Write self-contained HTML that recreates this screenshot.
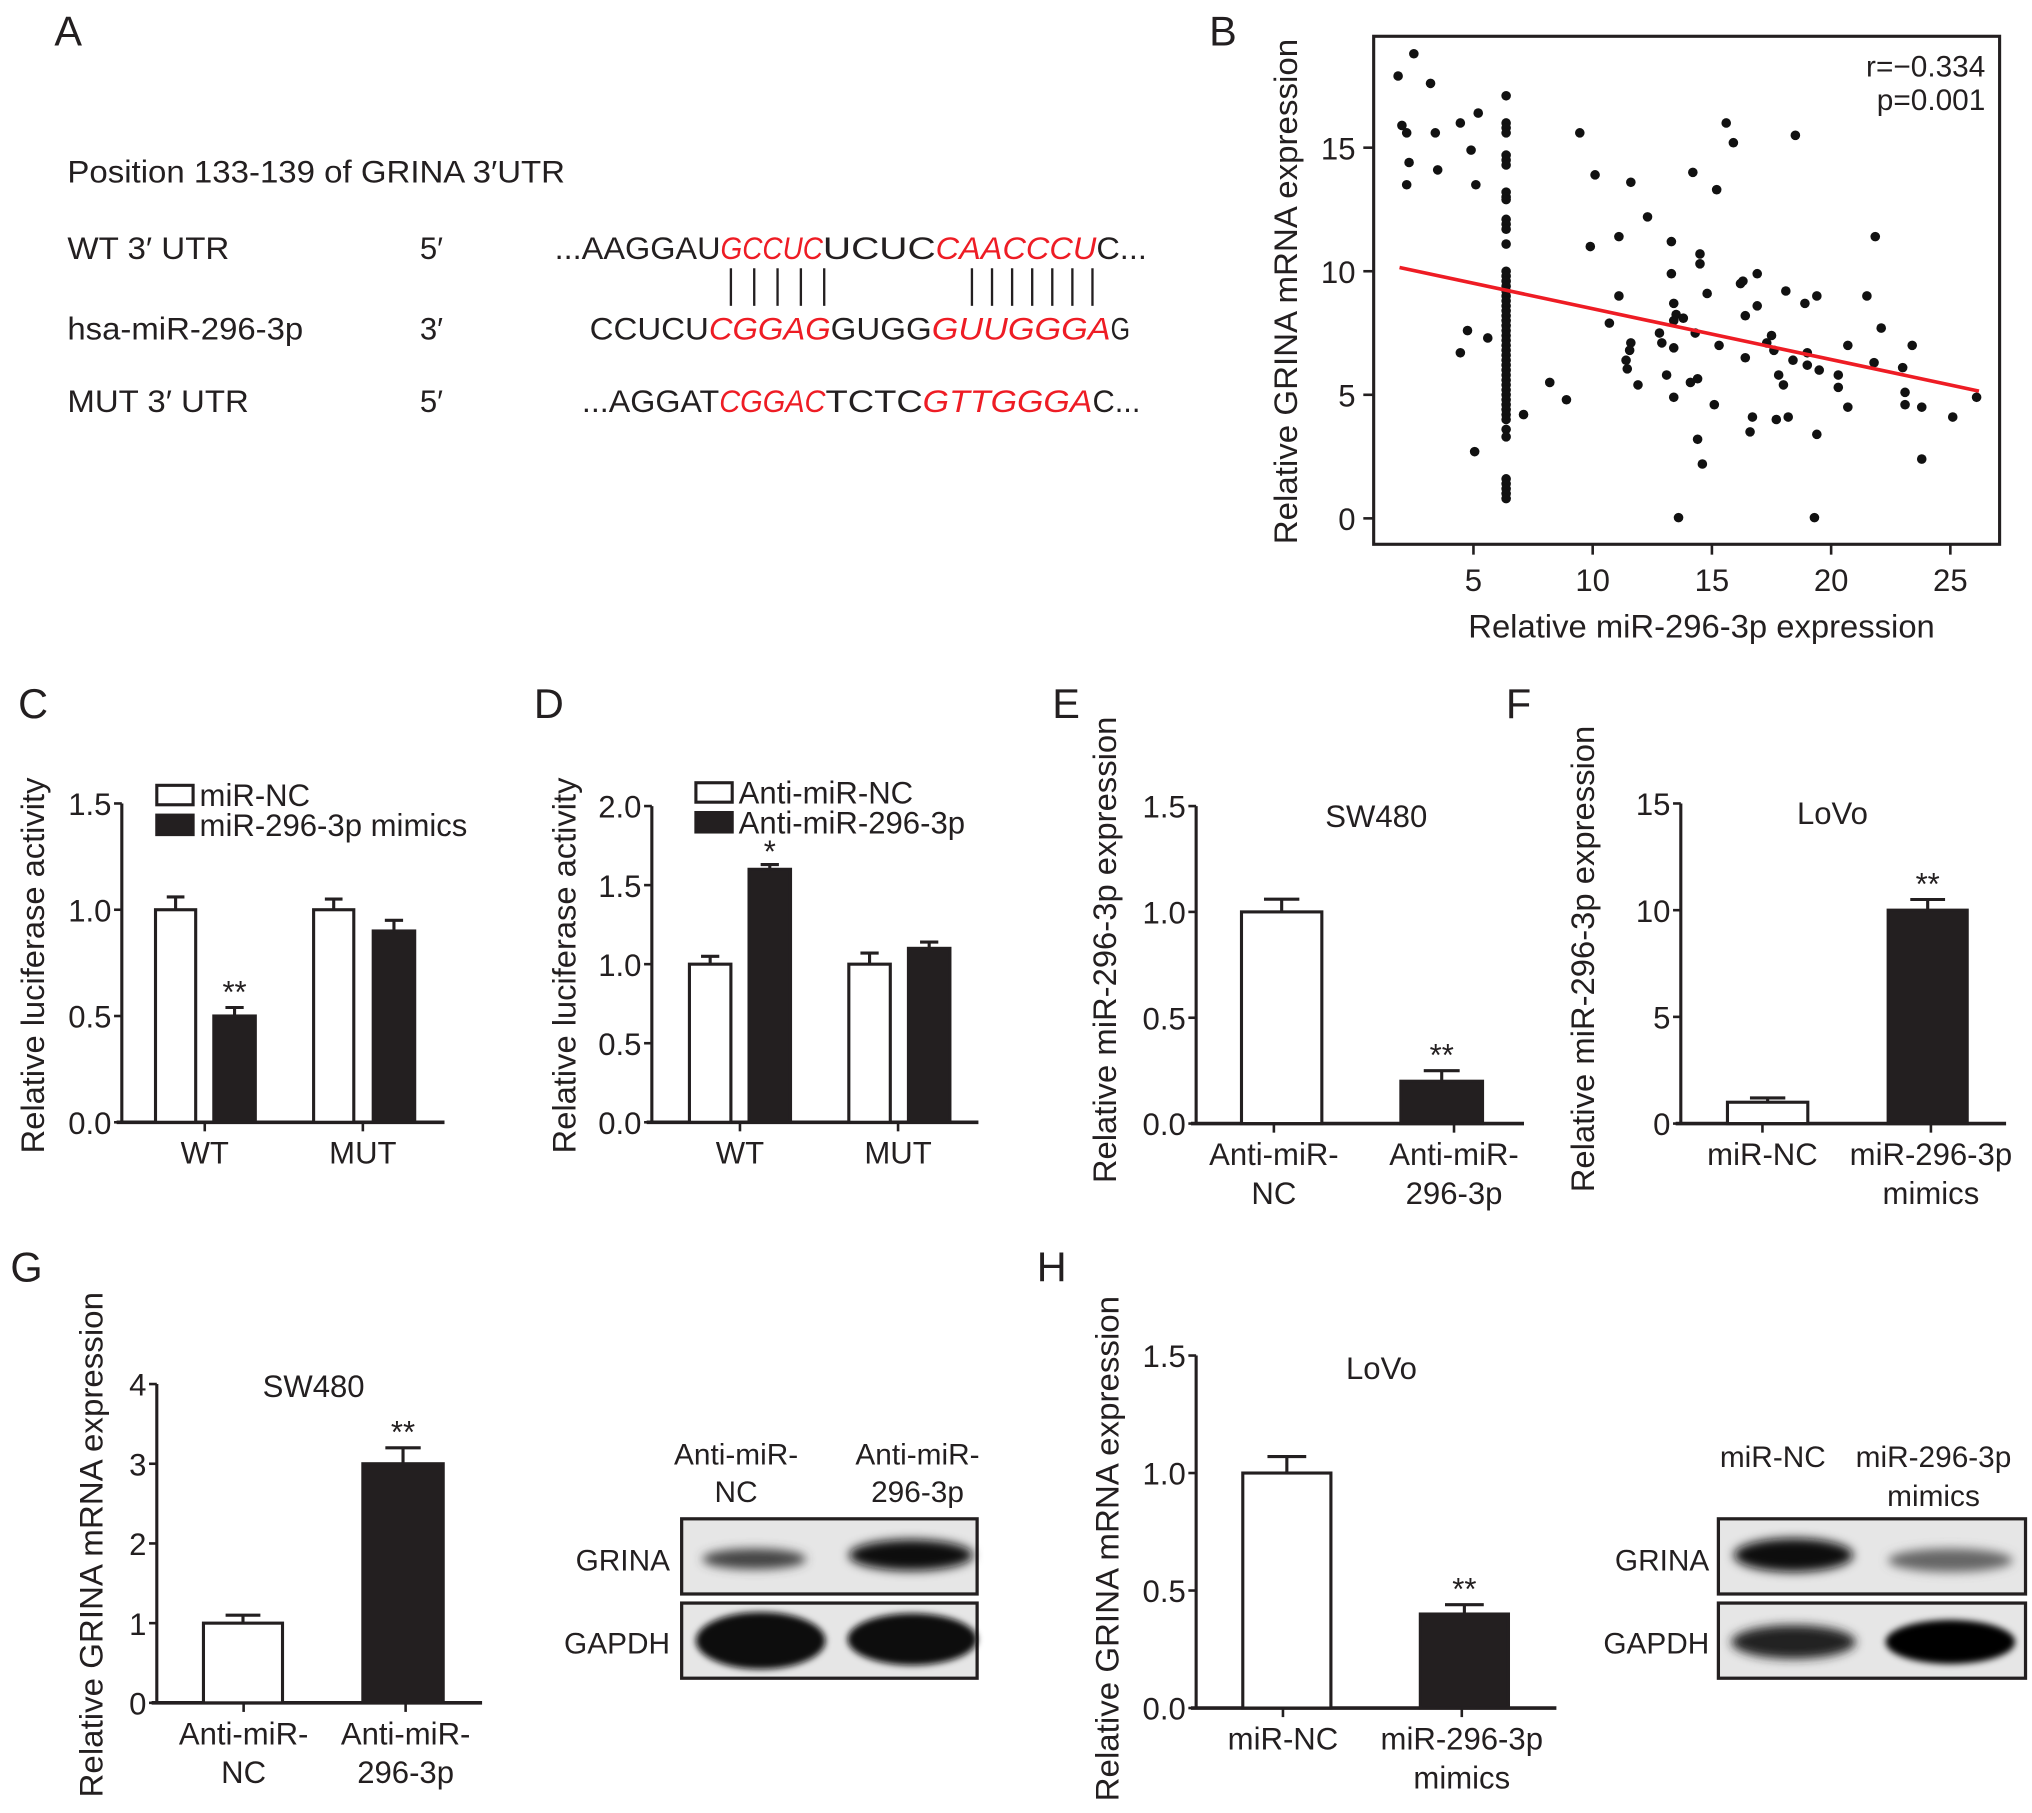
<!DOCTYPE html>
<html><head><meta charset="utf-8">
<style>
html,body{margin:0;padding:0;background:#fff;}
svg{display:block;}
text{font-family:"Liberation Sans",Arial,sans-serif;fill:#231f20;}
</style></head>
<body>
<svg id="fig" width="2032" height="1813" viewBox="0 0 1568 1399" preserveAspectRatio="none" xmlns="http://www.w3.org/2000/svg">
<defs>
<filter id="blur3" x="-30%" y="-80%" width="160%" height="260%"><feGaussianBlur stdDeviation="4"/></filter>
<filter id="blur2" x="-30%" y="-80%" width="160%" height="260%"><feGaussianBlur stdDeviation="2.5"/></filter>
</defs>

<!-- Panel A -->
<g>
<text x="42" y="35" font-size="32">A</text>
<text x="52" y="141" font-size="24" textLength="384" lengthAdjust="spacingAndGlyphs">Position 133-139 of GRINA 3′UTR</text>
<text x="52" y="200" font-size="24" textLength="125" lengthAdjust="spacingAndGlyphs">WT 3′ UTR</text>
<text x="52" y="262" font-size="24" textLength="182" lengthAdjust="spacingAndGlyphs">hsa-miR-296-3p</text>
<text x="52" y="318" font-size="24" textLength="140" lengthAdjust="spacingAndGlyphs">MUT 3′ UTR</text>
<text x="324" y="200" font-size="24">5′</text>
<text x="324" y="262" font-size="24">3′</text>
<text x="324" y="318" font-size="24">5′</text>
<g font-size="24">
<text x="428" y="200" textLength="128" lengthAdjust="spacingAndGlyphs">...AAGGAU</text>
<text x="556" y="200" textLength="79" lengthAdjust="spacingAndGlyphs" font-style="italic" style="fill:#ee1c24">GCCUC</text>
<text x="635" y="200" textLength="87" lengthAdjust="spacingAndGlyphs">UCUC</text>
<text x="722" y="200" textLength="124" lengthAdjust="spacingAndGlyphs" font-style="italic" style="fill:#ee1c24">CAACCCU</text>
<text x="846" y="200" textLength="39" lengthAdjust="spacingAndGlyphs">C...</text>
</g>
<g font-size="24">
<text x="455" y="262" textLength="92" lengthAdjust="spacingAndGlyphs">CCUCU</text>
<text x="547" y="262" textLength="94" lengthAdjust="spacingAndGlyphs" font-style="italic" style="fill:#ee1c24">CGGAG</text>
<text x="641" y="262" textLength="78" lengthAdjust="spacingAndGlyphs">GUGG</text>
<text x="719" y="262" textLength="138" lengthAdjust="spacingAndGlyphs" font-style="italic" style="fill:#ee1c24">GUUGGGA</text>
<text x="857" y="262" textLength="15" lengthAdjust="spacingAndGlyphs">G</text>
</g>
<g font-size="24">
<text x="449" y="318" textLength="106" lengthAdjust="spacingAndGlyphs">...AGGAT</text>
<text x="555" y="318" textLength="82" lengthAdjust="spacingAndGlyphs" font-style="italic" style="fill:#ee1c24">CGGAC</text>
<text x="637" y="318" textLength="75" lengthAdjust="spacingAndGlyphs">TCTC</text>
<text x="712" y="318" textLength="131" lengthAdjust="spacingAndGlyphs" font-style="italic" style="fill:#ee1c24">GTTGGGA</text>
<text x="843" y="318" textLength="37" lengthAdjust="spacingAndGlyphs">C...</text>
</g>
<g id="pairs" stroke="#231f20" stroke-width="1.8"></g>
</g>

<!-- Panel B -->
<g id="panelB">
<text x="933" y="35" font-size="32">B</text>
<rect x="1060" y="28" width="483" height="392" fill="none" stroke="#231f20" stroke-width="2.4"/>
<text x="1532" y="59" font-size="23" text-anchor="end">r=−0.334</text>
<text x="1532" y="85" font-size="23" text-anchor="end">p=0.001</text>
<text transform="translate(1001,225) rotate(-90)" font-size="25" text-anchor="middle" textLength="390" lengthAdjust="spacingAndGlyphs">Relative GRINA mRNA expression</text>
<text x="1313" y="492" font-size="25" text-anchor="middle" textLength="360" lengthAdjust="spacingAndGlyphs">Relative miR-296-3p expression</text>
</g>

<g font-size="32">
<text x="14" y="554">C</text>
<text x="412" y="554">D</text>
<text x="812" y="554">E</text>
<text x="1162" y="554">F</text>
<text x="8" y="989">G</text>
<text x="800" y="989">H</text>
</g>
<g id="charts"></g>

<!-- Western blots -->
<g>
<text x="568" y="1130" font-size="23" text-anchor="middle">Anti-miR-</text>
<text x="568" y="1159" font-size="23" text-anchor="middle">NC</text>
<text x="708" y="1130" font-size="23" text-anchor="middle">Anti-miR-</text>
<text x="708" y="1159" font-size="23" text-anchor="middle">296-3p</text>
<text x="517" y="1212" font-size="23" text-anchor="end">GRINA</text>
<text x="517" y="1276" font-size="23" text-anchor="end">GAPDH</text>
<rect x="526" y="1172" width="228" height="58" fill="#e6e6e6" stroke="#231f20" stroke-width="2.5"/>
<ellipse cx="582" cy="1203" rx="40" ry="8" fill="#444" filter="url(#blur3)"/>
<ellipse cx="703" cy="1200" rx="48" ry="12" fill="#111" filter="url(#blur3)"/>
<rect x="526" y="1237" width="228" height="58" fill="#e6e6e6" stroke="#231f20" stroke-width="2.5"/>
<ellipse cx="587" cy="1266" rx="50" ry="22" fill="#0a0a0a" filter="url(#blur2)"/>
<ellipse cx="704" cy="1265" rx="50" ry="20" fill="#0a0a0a" filter="url(#blur2)"/>
</g>
<g>
<text x="1368" y="1132" font-size="23" text-anchor="middle">miR-NC</text>
<text x="1492" y="1132" font-size="23" text-anchor="middle">miR-296-3p</text>
<text x="1492" y="1162" font-size="23" text-anchor="middle">mimics</text>
<text x="1319" y="1212" font-size="23" text-anchor="end">GRINA</text>
<text x="1319" y="1276" font-size="23" text-anchor="end">GAPDH</text>
<rect x="1326" y="1172" width="237" height="58" fill="#e6e6e6" stroke="#231f20" stroke-width="2.5"/>
<ellipse cx="1384" cy="1200" rx="46" ry="13" fill="#111" filter="url(#blur3)"/>
<ellipse cx="1505" cy="1204" rx="48" ry="9" fill="#666" filter="url(#blur3)"/>
<rect x="1326" y="1237" width="237" height="58" fill="#e6e6e6" stroke="#231f20" stroke-width="2.5"/>
<ellipse cx="1384" cy="1267" rx="48" ry="13" fill="#222" filter="url(#blur3)"/>
<ellipse cx="1505" cy="1267" rx="50" ry="17" fill="#050505" filter="url(#blur2)"/>
</g>
</svg>

<script>
// ---------- Panel B data ----------
const scatterX = [1.84,2.5,2.0,2.2,2.3,2.2,3.2,3.4,3.5,4.45,5.2,4.9,5.1,4.75,4.45,5.6,5.05,
6.37,6.37,6.37,6.37,6.37,6.37,6.37,6.37,6.37,6.37,6.37,6.37,6.37,6.37,
6.37,6.37,6.37,6.37,6.37,6.37,6.37,6.37,6.37,6.37,6.37,6.37,6.37,6.37,6.37,6.37,6.37,6.37,6.37,6.37,6.37,6.37,6.37,6.37,6.37,6.37,6.37,6.37,6.37,6.37,6.37,6.37,6.37,6.37,6.37,6.37,6.37,6.37,
7.1,8.2,8.9,9.46,9.9,10.1,10.7,11.1,11.1,11.4,11.45,11.6,11.55,11.6,11.9,12.3,12.8,12.9,13.1,13.3,13.3,13.4,13.4,13.5,13.4,13.4,13.6,13.8,14.2,14.3,14.4,14.1,14.5,14.5,14.4,14.6,14.8,15.2,15.3,15.1,15.6,15.9,16.2,16.3,16.4,16.4,16.7,16.6,16.9,16.9,17.3,17.5,17.6,17.8,18.0,17.7,18.2,18.1,18.5,18.4,18.9,19.0,19.0,19.4,19.5,19.4,19.3,20.3,20.3,20.7,20.7,21.5,21.8,21.85,22.1,23.0,23.1,23.1,23.4,23.8,23.8,25.1,26.1];
const scatterY = [17.9,18.8,15.9,15.6,14.4,13.5,17.6,15.6,14.1,16.0,16.4,14.9,13.5,7.6,6.7,7.3,2.7,
17.1,16.0,15.8,15.6,14.7,14.5,14.3,13.2,13.0,12.9,12.1,11.9,11.7,11.1,
10.0,9.8,9.6,9.4,9.2,9.0,8.8,8.6,8.4,8.2,8.0,7.8,7.6,7.4,7.2,7.0,6.8,6.6,6.4,6.2,6.0,5.8,5.6,5.4,5.2,5.0,4.8,4.6,4.4,4.2,4.0,3.6,3.3,1.6,1.4,1.2,1.0,0.8,
4.2,5.5,4.8,15.6,11.0,13.9,7.9,11.4,9.0,6.4,6.05,7.1,6.8,13.6,5.4,12.2,7.5,7.1,5.8,11.2,9.9,8.7,8.0,8.25,6.9,4.9,0.03,8.1,14.0,7.5,5.65,5.5,10.7,10.3,3.2,2.2,9.1,13.3,7.0,4.6,16.0,15.2,9.5,9.6,8.2,6.5,4.1,3.5,9.9,8.6,7.1,7.4,6.8,5.8,5.4,4.0,4.1,9.2,15.5,6.4,8.7,6.2,6.7,9.0,6.0,3.4,0.03,5.8,5.3,7.0,4.5,9.0,6.3,11.4,7.7,6.1,5.1,4.6,7.0,4.5,2.4,4.1,4.9];
const fitX = [1.9, 26.2];
const fitY = [10.15, 5.15];
const bXTicks = [5,10,15,20,25];
const bYTicks = [0,5,10,15];

// ---------- Bar chart data ----------
const cCats = ["WT","MUT"];
const cNC = [1.0,1.0];
const cNCerr = [0.06,0.05];
const cTrt = [0.5,0.9];
const cTrtErr = [0.04,0.05];
const cTicks = ["0.0","0.5","1.0","1.5"];

const dCats = ["WT","MUT"];
const dNC = [1.0,1.0];
const dNCerr = [0.05,0.07];
const dTrt = [1.6,1.1];
const dTrtErr = [0.03,0.04];
const dTicks = ["0.0","0.5","1.0","1.5","2.0"];

const eCats = [["Anti-miR-","NC"],["Anti-miR-","296-3p"]];
const eVals = [1.0,0.2];
const eErr = [0.06,0.05];
const eTicks = ["0.0","0.5","1.0","1.5"];

const fCats = [["miR-NC"],["miR-296-3p","mimics"]];
const fVals = [1.0,10.0];
const fErr = [0.2,0.5];
const fTicks = ["0","5","10","15"];

const gCats = [["Anti-miR-","NC"],["Anti-miR-","296-3p"]];
const gVals = [1.0,3.0];
const gErr = [0.1,0.2];
const gTicks = ["0","1","2","3","4"];

const hCats = [["miR-NC"],["miR-296-3p","mimics"]];
const hVals = [1.0,0.4];
const hErr = [0.07,0.04];
const hTicks = ["0.0","0.5","1.0","1.5"];

const NS = "http://www.w3.org/2000/svg";
function mk(tag, attrs, parent){
  const e = document.createElementNS(NS, tag);
  for (const k in attrs) e.setAttribute(k, attrs[k]);
  parent.appendChild(e);
  return e;
}
const INK = "#231f20";
const TICKFS = 24;

const pairs = document.getElementById('pairs');
[564,582,600,618,636, 750,765.5,781,796.5,812,827.5,843].forEach(function(x){
  const l = mk('line',{x1:x,x2:x,y1:207,y2:236},pairs);
  
  
});

(function(){
  const g = document.getElementById('panelB');
  const xs = v => 1137 + (v-5)*18.4;
  const ys = v => 400 - v*19.07;
  bYTicks.forEach(function(t){
    const l = mk('line',{x1:1052,x2:1060,y1:ys(t),y2:ys(t),stroke:INK,'stroke-width':2},g);
    
    
    const tx = mk('text',{x:1046,y:ys(t)+9,'font-size':TICKFS,'text-anchor':'end'},g);
    tx.textContent = t;
    
    
  });
  bXTicks.forEach(function(t){
    const l = mk('line',{x1:xs(t),x2:xs(t),y1:420,y2:428,stroke:INK,'stroke-width':2},g);
    
    
    const tx = mk('text',{x:xs(t),y:456,'font-size':TICKFS,'text-anchor':'middle'},g);
    tx.textContent = t;
    
    
  });
  for (let i=0;i<scatterX.length;i++){
    const c = mk('circle',{cx:xs(scatterX[i]),cy:ys(scatterY[i]),r:3.7,fill:'#111'},g);
    
    
  }
  const fl = mk('line',{x1:xs(fitX[0]),y1:ys(fitY[0]),x2:xs(fitX[1]),y2:ys(fitY[1]),stroke:'#ee1c24','stroke-width':2.8},g);
  
  
})();

function barChart(o){
  const g = mk('g',{},document.getElementById('charts'));
  
  
  const ys = v => o.y0 - v/o.ymax*(o.y0-o.yTop);
  const ya = mk('line',{x1:o.ax,x2:o.ax,y1:o.yTop,y2:o.y0,stroke:INK,'stroke-width':2.4},g);
  
  
  const xa = mk('line',{x1:o.ax-4,x2:o.axEnd,y1:o.y0,y2:o.y0,stroke:INK,'stroke-width':2.8},g);
  
  
  o.ticks.forEach(function(t,i){
    const v = o.ymax*i/(o.ticks.length-1);
    const l = mk('line',{x1:o.ax-6,x2:o.ax,y1:ys(v),y2:ys(v),stroke:INK,'stroke-width':2},g);
    
    
    const tx = mk('text',{x:o.ax-8,y:ys(v)+9,'font-size':TICKFS,'text-anchor':'end'},g);
    tx.textContent = t;
    
    
  });
  const yt = mk('text',{transform:'translate('+o.titleX+','+o.titleY+') rotate(-90)','font-size':25,'text-anchor':'middle',textLength:o.titleLen,lengthAdjust:'spacingAndGlyphs'},g);
  yt.textContent = o.title;
  
  
  if (o.cell){
    const ct = mk('text',{x:o.cellX,y:o.cellY,'font-size':24,'text-anchor':'middle'},g);
    ct.textContent = o.cell;
    
    
  }
  o.bars.forEach(function(b){
    const top = ys(b.v);
    const cx = b.x + b.w/2;
    const eTop = ys(b.v + b.e);
    const el = mk('line',{x1:cx,x2:cx,y1:eTop,y2:top,stroke:INK,'stroke-width':2.4},g);
    
    
    const cap = mk('line',{x1:cx-b.w*0.22,x2:cx+b.w*0.22,y1:eTop,y2:eTop,stroke:INK,'stroke-width':2.4},g);
    
    
    const r = mk('rect',{x:b.x,y:top,width:b.w,height:o.y0-top,fill:b.dark?'#231f20':'#fff',stroke:INK,'stroke-width':2.4},g);
    
    
    if (b.sig){
      const s = mk('text',{x:cx,y:eTop-(b.sigOff||6),'font-size':24,'text-anchor':'middle'},g);
      s.textContent = b.sig;
      
      
    }
  });
  o.xTicks.forEach(function(t){
    const l = mk('line',{x1:t.x,x2:t.x,y1:o.y0,y2:o.y0+7,stroke:INK,'stroke-width':2},g);
    
    
    t.lines.forEach(function(s,k){
      const tx = mk('text',{x:t.x,y:o.y0+32+k*30,'font-size':TICKFS,'text-anchor':'middle'},g);
      tx.textContent = s;
      
      
    });
  });
  if (o.legend){
    o.legend.forEach(function(L){
      const r = mk('rect',{x:L.x,y:L.y,width:28,height:15,fill:L.dark?'#231f20':'#fff',stroke:INK,'stroke-width':2.4},g);
      
      
      const tx = mk('text',{x:L.x+33,y:L.y+16,'font-size':24},g);
      tx.textContent = L.label;
      
      
    });
  }
}

barChart({name:'panel-c-chart', ax:94, axEnd:343, y0:866, yTop:620, ymax:1.5, ticks:cTicks,
  title:'Relative luciferase activity', titleLen:290, titleX:34, titleY:745,
  bars:[
    {x:120,w:31,v:cNC[0],e:cNCerr[0],dark:false,name:'bar-wt-mir-nc'},
    {x:165,w:32,v:cTrt[0],e:cTrtErr[0],dark:true,name:'bar-wt-mimics',sig:'**',sigOff:4},
    {x:242,w:31,v:cNC[1],e:cNCerr[1],dark:false,name:'bar-mut-mir-nc'},
    {x:288,w:32,v:cTrt[1],e:cTrtErr[1],dark:true,name:'bar-mut-mimics'}],
  xTicks:[{x:158,lines:[cCats[0]]},{x:280,lines:[cCats[1]]}],
  legend:[{x:121,y:606,dark:false,label:'miR-NC'},{x:121,y:629,dark:true,label:'miR-296-3p mimics'}]
});
barChart({name:'panel-d-chart', ax:503, axEnd:755, y0:866, yTop:622, ymax:2.0, ticks:dTicks,
  title:'Relative luciferase activity', titleLen:290, titleX:444, titleY:745,
  bars:[
    {x:532,w:32,v:dNC[0],e:dNCerr[0],dark:false,name:'bar-wt-anti-nc'},
    {x:578,w:32,v:dTrt[0],e:dTrtErr[0],dark:true,name:'bar-wt-anti-mir',sig:'*',sigOff:2},
    {x:655,w:32,v:dNC[1],e:dNCerr[1],dark:false,name:'bar-mut-anti-nc'},
    {x:701,w:32,v:dTrt[1],e:dTrtErr[1],dark:true,name:'bar-mut-anti-mir'}],
  xTicks:[{x:571,lines:[dCats[0]]},{x:693,lines:[dCats[1]]}],
  legend:[{x:537,y:604,dark:false,label:'Anti-miR-NC'},{x:537,y:627,dark:true,label:'Anti-miR-296-3p'}]
});
barChart({name:'panel-e-chart', ax:923, axEnd:1176, y0:867, yTop:622, ymax:1.5, ticks:eTicks,
  title:'Relative miR-296-3p expression', titleLen:360, titleX:861, titleY:733, cell:'SW480', cellX:1062, cellY:638,
  bars:[
    {x:958,w:62,v:eVals[0],e:eErr[0],dark:false,name:'bar-anti-mir-nc'},
    {x:1081,w:63,v:eVals[1],e:eErr[1],dark:true,name:'bar-anti-mir-296',sig:'**',sigOff:4}],
  xTicks:[{x:983,lines:eCats[0]},{x:1122,lines:eCats[1]}]
});
barChart({name:'panel-f-chart', ax:1297, axEnd:1548, y0:867, yTop:620, ymax:15, ticks:fTicks,
  title:'Relative miR-296-3p expression', titleLen:360, titleX:1230, titleY:740, cell:'LoVo', cellX:1414, cellY:636,
  bars:[
    {x:1333,w:62,v:fVals[0],e:fErr[0],dark:false,name:'bar-mir-nc'},
    {x:1457,w:61,v:fVals[1],e:fErr[1],dark:true,name:'bar-mir-296-mimics',sig:'**',sigOff:4}],
  xTicks:[{x:1360,lines:fCats[0]},{x:1490,lines:fCats[1]}]
});
barChart({name:'panel-g-chart', ax:121, axEnd:372, y0:1314, yTop:1068, ymax:4, ticks:gTicks,
  title:'Relative GRINA mRNA expression', titleLen:390, titleX:79, titleY:1192, cell:'SW480', cellX:242, cellY:1078,
  bars:[
    {x:157,w:61,v:gVals[0],e:gErr[0],dark:false,name:'bar-anti-mir-nc'},
    {x:280,w:62,v:gVals[1],e:gErr[1],dark:true,name:'bar-anti-mir-296',sig:'**',sigOff:4}],
  xTicks:[{x:188,lines:gCats[0]},{x:313,lines:gCats[1]}]
});
barChart({name:'panel-h-chart', ax:923, axEnd:1201, y0:1318, yTop:1046, ymax:1.5, ticks:hTicks,
  title:'Relative GRINA mRNA expression', titleLen:390, titleX:863, titleY:1195, cell:'LoVo', cellX:1066, cellY:1064,
  bars:[
    {x:959,w:68,v:hVals[0],e:hErr[0],dark:false,name:'bar-mir-nc'},
    {x:1096,w:68,v:hVals[1],e:hErr[1],dark:true,name:'bar-mir-296-mimics',sig:'**',sigOff:4}],
  xTicks:[{x:990,lines:hCats[0]},{x:1128,lines:hCats[1]}]
});
</script>
</body></html>
